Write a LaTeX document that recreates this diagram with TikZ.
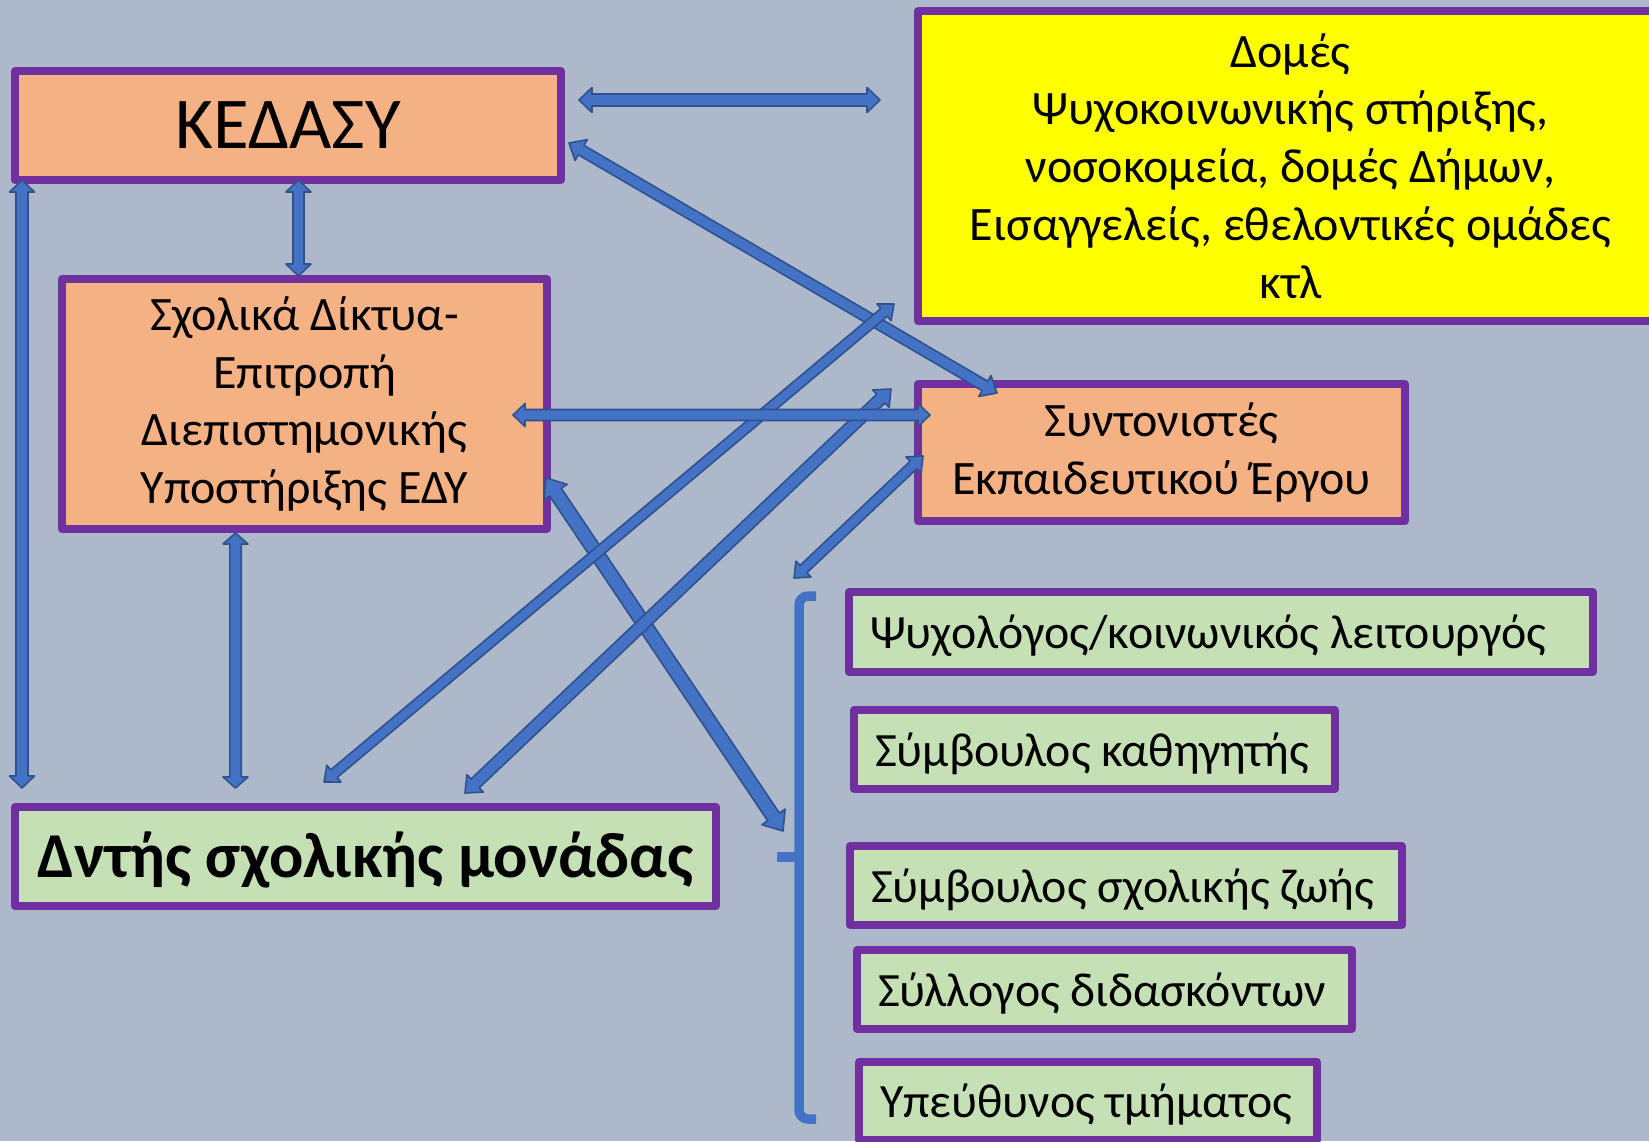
\documentclass[tikz,border=0pt]{standalone}
\usepackage{fontspec}
\setmainfont{Carlito}
\usetikzlibrary{calc}
\definecolor{bgcol}{HTML}{ADB9CA}
\definecolor{apurple}{HTML}{7030A0}
\definecolor{aorange}{HTML}{F4B183}
\definecolor{agreen}{HTML}{C5E0B4}
\definecolor{ayellow}{HTML}{FFFF00}
\definecolor{ablue}{HTML}{4472C4}
\definecolor{aedge}{HTML}{2F528F}
\tikzset{
  box/.style={draw=apurple, line width=7.5pt, line join=round, inner sep=0pt, align=center},
  orangebox/.style={box, fill=aorange},
  yellowbox/.style={box, fill=ayellow},
  greenbox/.style={box, fill=agreen, align=flush left, inner xsep=21pt, inner ysep=0pt,
                   text width=#1, text height=44pt, text depth=11pt},
  txt/.style={font=\fontsize{48}{57.8}\selectfont},
  gtxt/.style={font=\fontsize{47.8}{56}\selectfont},
  arrowsty/.style={fill=ablue, draw=aedge, line width=1.6pt, line join=round},
  bracketsty/.style={draw=ablue, line width=9.5pt, rounded corners=9pt}
}
% #1 start, #2 end, #3 shaft half width, #4 head half width, #5 head length
\newcommand{\blkarrow}[5]{%
  \filldraw[arrowsty] (#1)
    -- ($(#1)!#5!(#2)!#4!90:(#2)$)
    -- ($(#1)!#5!(#2)!#3!90:(#2)$)
    -- ($(#2)!#5!(#1)!#3!270:(#1)$)
    -- ($(#2)!#5!(#1)!#4!270:(#1)$)
    -- (#2)
    -- ($(#2)!#5!(#1)!#4!90:(#1)$)
    -- ($(#2)!#5!(#1)!#3!90:(#1)$)
    -- ($(#1)!#5!(#2)!#3!270:(#2)$)
    -- ($(#1)!#5!(#2)!#4!270:(#2)$)
    -- cycle;}
\begin{document}
\begin{tikzpicture}[x=1pt,y=-1pt]
\useasboundingbox (0,0) rectangle (1649,1141);
\clip (0,0) rectangle (1649,1141);
\fill[bgcol] (0,0) rectangle (1649,1141);

% boxes
\node[orangebox, minimum width=546pt, minimum height=109pt,
      font=\fontsize{73}{86}\selectfont] (kedasy) at (288,125.5) {ΚΕΔΑΣΥ};
\node[orangebox, txt, minimum width=485pt, minimum height=250pt] (sxol) at (304.5,404)
  {Σχολικά Δίκτυα-\\Επιτροπή\\Διεπιστημονικής\\Υποστήριξης ΕΔΥ};
\node[yellowbox, txt, minimum width=745pt, minimum height=310pt] (domes) at (1290.5,166)
  {Δομές\\Ψυχοκοινωνικής στήριξης,\\νοσοκομεία, δομές Δήμων,\\Εισαγγελείς, εθελοντικές ομάδες\\κτλ};
\node[orangebox, txt, minimum width=487pt, minimum height=137pt] (synt) at (1161.5,452.5)
  {Συντονιστές\\Εκπαιδευτικού Έργου};
\node[box, fill=agreen, minimum width=701pt, minimum height=99pt,
      text height=54pt, text depth=13pt,
      font=\fontsize{64}{76}\selectfont\bfseries] (dntis) at (365.5,856.5)
  {Δντής σχολικής μονάδας};
\node[greenbox=702pt, gtxt, minimum height=80pt] (psy) at (1221,632)
  {\mbox{Ψυχολόγος/κοινωνικός λειτουργός}};
\node[greenbox=439pt, gtxt, minimum height=79pt] (skath) at (1094.5,749.5)
  {\mbox{Σύμβουλος καθηγητής}};
\node[greenbox=510pt, gtxt, minimum height=79pt] (szoi) at (1126,885.5)
  {\mbox{Σύμβουλος σχολικής ζωής}};
\node[greenbox=453pt, gtxt, minimum height=79pt] (sdid) at (1104.5,989.5)
  {\mbox{Σύλλογος διδασκόντων}};
\node[greenbox=416pt, gtxt, minimum height=78pt] (ypeu) at (1088,1101)
  {\mbox{Υπεύθυνος τμήματος}};

% bracket
\draw[bracketsty] (816,596) -- (799,596) -- (799,1119) -- (816,1119);
\draw[draw=ablue, line width=9.5pt] (799,857) -- (777,857);

% arrow end points
\coordinate (a1s) at (579,100);   \coordinate (a1e) at (880,100);
\coordinate (a2s) at (569,143);   \coordinate (a2e) at (997,393);
\coordinate (a3s) at (298.5,180); \coordinate (a3e) at (298.5,276);
\coordinate (a4s) at (22,180);    \coordinate (a4e) at (22,788);
\coordinate (a5s) at (235.5,533); \coordinate (a5e) at (235.5,788);
\coordinate (a6s) at (513,415);   \coordinate (a6e) at (930,415);
\coordinate (a7s) at (324,782);   \coordinate (a7e) at (894,304);
\coordinate (a8s) at (465,793);   \coordinate (a8e) at (891,389);
\coordinate (a9s) at (794,578);   \coordinate (a9e) at (923,456);
\coordinate (a10s) at (546,478);  \coordinate (a10e) at (783,831);

% arrows
\blkarrow{a10s}{a10e}{7pt}{14pt}{17pt}
\blkarrow{a2s}{a2e}{5.5pt}{12pt}{14pt}
\blkarrow{a7s}{a7e}{5pt}{11pt}{13pt}
\blkarrow{a8s}{a8e}{6pt}{12pt}{14pt}
\blkarrow{a9s}{a9e}{5pt}{11pt}{13pt}
\blkarrow{a6s}{a6e}{5.5pt}{11.5pt}{12pt}
\blkarrow{a1s}{a1e}{6pt}{12.5pt}{13pt}
\blkarrow{a3s}{a3e}{5.5pt}{12.5pt}{12pt}
\blkarrow{a4s}{a4e}{6pt}{12.5pt}{12pt}
\blkarrow{a5s}{a5e}{5.7pt}{12.5pt}{11pt}
\end{tikzpicture}
\end{document}
